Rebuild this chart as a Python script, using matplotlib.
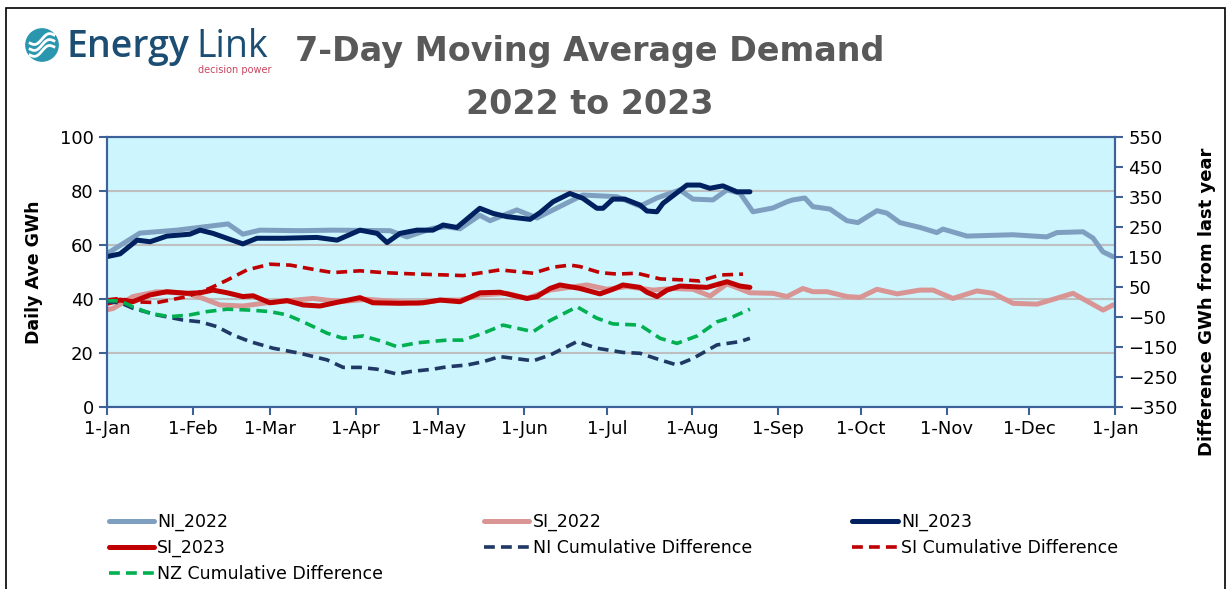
import numpy as np
import matplotlib
matplotlib.use('Agg')
import matplotlib.pyplot as plt
from matplotlib.patches import Rectangle, Circle

ni_2022_days = [0, 1.1, 11.9, 25.3, 43.8, 49.2, 55.4, 69.9, 81.8, 102.5, 108.6, 118, 123.1, 127.8, 135,
                138.7, 148.4, 155.7, 162.9, 172.3, 184.6, 193, 199.1, 207.4, 212.2, 219.4, 224.5, 229.2,
                233.9, 241.1, 246.2, 248.4, 252.7, 255.6, 261.8, 267.9, 271.9, 278.8, 282.4, 287.1, 294.4,
                300.5, 302.7, 311.4, 328, 340.3, 344, 353.4, 357, 360.6, 364.2]
ni_2022 = [57, 57.5, 64.4, 65.5, 67.8, 64, 65.5, 65.3, 65.5, 65.3, 63, 66.2, 66.8, 66, 71,
           69, 73, 70, 73.7, 78.5, 77.9, 74.4, 77.4, 80.4, 77, 76.7, 80.4, 79.2,
           72.3, 73.7, 76, 76.7, 77.4, 74.2, 73.3, 69, 68.3, 72.7, 71.8, 68.3, 66.5,
           64.6, 65.9, 63.3, 63.8, 63, 64.6, 64.9, 62.6, 57.5, 55.7]

si_2022_days = [0, 2.2, 9.4, 18.1, 29, 34.8, 40.9, 49.2, 57.9, 74.6, 84.4, 94.1, 112.3, 120.6, 127.8,
                135.1, 144.8, 152.1, 160.4, 173.8, 181.1, 188.3, 197.7, 205, 212.2, 218.4, 224.5, 232.8,
                241.2, 246.2, 252, 255.6, 260.7, 268, 272.7, 278.8, 286.1, 294.4, 299.1, 306.3, 315,
                320.8, 328.1, 336.8, 349.8, 360.7, 364.3]
si_2022 = [36, 36.5, 40.9, 42.7, 42.1, 40.2, 37.8, 37.4, 38.6, 40.2, 39, 39.9, 38.4, 39.6, 39.6,
           41.5, 42.1, 40.2, 43.3, 45.2, 43.6, 44.6, 43.3, 43.9, 43.6, 41.1, 45.6, 42.3,
           42.1, 40.9, 43.9, 42.7, 42.7, 40.9, 40.6, 43.6, 41.9, 43.3, 43.3, 40.2, 43,
           42.1, 38.4, 38.1, 42.1, 35.9, 37.8]

ni_2023_days = [0, 4.7, 10.9, 15.6, 21.7, 30, 33.7, 38.4, 43.4, 49.2, 54.3, 63.7, 76, 83.3, 91.6,
                97.8, 101.4, 106.1, 112.2, 118, 121.7, 126.7, 135, 139.8, 144.8, 153.2, 156.8, 161.5,
                167.6, 172.3, 177.4, 179.6, 183.2, 187.5, 193, 195.5, 199.1, 201.3, 210, 214.7, 218.3,
                223, 228.1, 232.8]
ni_2023 = [55.7, 56.7, 61.8, 61.2, 63.3, 64, 65.5, 64.3, 62.5, 60.4, 62.5, 62.5, 62.8, 61.8, 65.5,
           64.3, 60.9, 64.3, 65.5, 65.5, 67.4, 66.5, 73.6, 71.7, 70.5, 69.5, 72, 76,
           79.1, 77.3, 73.6, 73.6, 77, 77, 74.8, 72.6, 72.3, 75.4, 82.2, 82.2, 81,
           81.9, 79.7, 79.7]

si_2023_days = [0, 4.7, 9.4, 15.6, 21.7, 29, 33.7, 38.4, 43.5, 49.2, 52.9, 59, 65.2, 71, 77.1,
                84.4, 91.6, 96.3, 106.1, 114.4, 120.6, 127.8, 135.1, 142.3, 152.1, 155.7, 160.4, 164,
                171.3, 178.5, 183.2, 186.8, 193, 195.5, 199.2, 202.8, 207.5, 217.3, 224.5, 229.2, 232.8]
si_2023 = [38.4, 39.6, 39, 41.5, 42.7, 42.1, 42.3, 43.3, 42.3, 40.9, 41.2, 38.6, 39.4, 37.8, 37.4,
           39, 40.5, 38.6, 38.4, 38.6, 39.6, 39, 42.3, 42.5, 40.2, 40.9, 43.9, 45.2,
           43.9, 41.9, 43.6, 45.2, 44.3, 42.5, 40.9, 43.3, 44.8, 44.3, 46.4, 44.8, 44.3]

ni_cum_days = [0, 4.7, 9.4, 18.1, 27.5, 33.7, 39.8, 45.6, 51.8, 60.1, 69.9, 79.7, 85.5, 91.6, 97.8,
               105, 109.7, 118, 123.1, 130.4, 136.2, 142.3, 154.3, 160.4, 170.2, 177.4, 186.8, 193,
               200.3, 206.4, 212.2, 220.9, 229.2, 232.8]
ni_cum = [0, -2, -21, -43, -60, -66, -82, -110, -132, -154, -171, -193, -218, -218, -224,
          -240, -232, -224, -216, -210, -199, -182, -196, -177, -132, -154, -168, -171,
          -193, -210, -188, -143, -132, -121]

si_cum_days = [0, 4.7, 9.4, 18.1, 29, 37.3, 43.5, 50.7, 59, 66.3, 74.6, 81.8, 91.6, 99.9, 112.3,
               123.1, 128.9, 142.3, 154.3, 161.5, 167.7, 171.3, 178.5, 184.7, 191.9, 200.3, 210, 214.7,
               222, 230.3]
si_cum = [7, 12, 1, -2, 18, 46, 73, 107, 126, 123, 109, 98, 104, 98, 93,
          90, 88, 107, 96, 116, 123, 118, 98, 93, 96, 77, 73, 70, 90, 93]

nz_cum_days = [0, 4.7, 9.4, 15.6, 22.8, 30, 36.2, 43.5, 51.8, 59, 65.2, 71, 79.7, 85.5, 92.7,
               99.9, 105, 112.3, 123.1, 128.9, 136.2, 143.4, 154.3, 160.4, 170.2, 177.4, 183.2, 193,
               200.3, 206.4, 213.7, 220.9, 226.7, 232.8]
nz_cum = [4, 4, -16, -38, -49, -43, -32, -24, -27, -32, -43, -66, -104, -121, -113,
          -132, -149, -136, -127, -127, -104, -77, -99, -62, -16, -54, -73, -77,
          -121, -138, -113, -66, -49, -24]

month_days = [0, 31, 59, 90, 120, 151, 181, 212, 243, 273, 304, 334, 365]
month_labels = ['1-Jan', '1-Feb', '1-Mar', '1-Apr', '1-May', '1-Jun', '1-Jul',
                '1-Aug', '1-Sep', '1-Oct', '1-Nov', '1-Dec', '1-Jan']

spine_col = '#3D6199'

fig = plt.figure(figsize=(12.3, 5.89), dpi=100)
fig.patches.append(Rectangle((6 / 1230, -0.1), 1219 / 1230, 1.1 - 8 / 589, transform=fig.transFigure,
                             fill=False, edgecolor='black', linewidth=1.2))

ax = fig.add_axes([107 / 1230, 1 - 407 / 589, 1008 / 1230, 270 / 589])
ax.set_facecolor('#CCF5FE')
ax.set_axisbelow(True)
ax.grid(axis='y', color='#BFBFBF', linewidth=1.5)

l1, = ax.plot(ni_2022_days, ni_2022, color='#7F9FC0', lw=3.6, label='NI_2022', solid_capstyle='round')
l2, = ax.plot(si_2022_days, si_2022, color='#D99594', lw=3.6, label='SI_2022', solid_capstyle='round')
l3, = ax.plot(ni_2023_days, ni_2023, color='#002060', lw=3.6, label='NI_2023', solid_capstyle='round')
l4, = ax.plot(si_2023_days, si_2023, color='#C00000', lw=3.6, label='SI_2023', solid_capstyle='round')

ax.set_xlim(0, 365)
ax.set_ylim(0, 100)
ax.set_yticks(range(0, 101, 20))
ax.set_xticks(month_days)
ax.set_xticklabels(month_labels)
ax.tick_params(axis='both', labelsize=13, color=spine_col, width=1.5, length=6, direction='out')
for s in ax.spines.values():
    s.set_color(spine_col)
    s.set_linewidth(1.5)
ax.set_ylabel('Daily Ave GWh', fontsize=12.5, fontweight='bold', labelpad=12)

ax2 = ax.twinx()
l5, = ax2.plot(ni_cum_days, ni_cum, color='#1F3864', lw=2.6, ls=(0, (3, 1.7)), label='NI Cumulative Difference')
l6, = ax2.plot(si_cum_days, si_cum, color='#C00000', lw=2.6, ls=(0, (3, 1.7)), label='SI Cumulative Difference')
l7, = ax2.plot(nz_cum_days, nz_cum, color='#00B050', lw=2.6, ls=(0, (3, 1.7)), label='NZ Cumulative Difference')
ax2.set_ylim(-350, 550)
ax2.set_yticks(range(-350, 551, 100))
ax2.tick_params(axis='y', labelsize=13, color=spine_col, width=1.5, length=6, direction='out')
for s in ax2.spines.values():
    s.set_color(spine_col)
    s.set_linewidth(1.5)
ax2.set_ylabel('Difference GWh from last year', fontsize=13, fontweight='bold')
ax2.yaxis.set_label_coords(1.082, 0.39)

# legend fills column-wise, so order the handles to read row by row
handles = [l1, l4, l7, l2, l5, l3, l6]
fig.legend(handles, [h.get_label() for h in handles], ncol=3, loc='upper left',
           bbox_to_anchor=(93 / 1230, 1 - 497 / 589), frameon=False, fontsize=12.5,
           handlelength=2.6, handletextpad=0.2, columnspacing=5.8, labelspacing=0.45)

# title
fig.text(590 / 1230, 1 - 52 / 589, '7-Day Moving Average Demand', ha='center', va='center',
         fontsize=24, fontweight='bold', color='#595959')
fig.text(590 / 1230, 1 - 105 / 589, '2022 to 2023', ha='center', va='center',
         fontsize=24, fontweight='bold', color='#595959')

# logo
lax = fig.add_axes([25 / 1230, 1 - 62 / 589, 34 / 1230, 34 / 589])
lax.set_xlim(-1, 1)
lax.set_ylim(-1, 1)
lax.set_aspect('equal')
lax.axis('off')
lax.add_patch(Circle((0, 0), 0.95, color='#2A97AE'))
t = np.linspace(-0.7, 0.7, 50)
for off in (-0.35, 0.0, 0.35):
    lax.plot(t, off + 0.18 * np.sin(t * 4.5) + 0.35 * t, color='white', lw=2.0)
fig.text(66 / 1230, 1 - 57 / 589, 'Energy', fontsize=27, color='#1C4E74', fontweight='semibold',
         family='Open Sans', va='baseline', ha='left')
fig.text(196 / 1230, 1 - 57 / 589, 'Link', fontsize=27, color='#1C4E74',
         family='Open Sans', va='baseline', ha='left')
fig.text(271 / 1230, 1 - 73 / 589, 'decision power', fontsize=7, color='#C8455F',
         va='baseline', ha='right')

fig.savefig('out.png', dpi=100)
